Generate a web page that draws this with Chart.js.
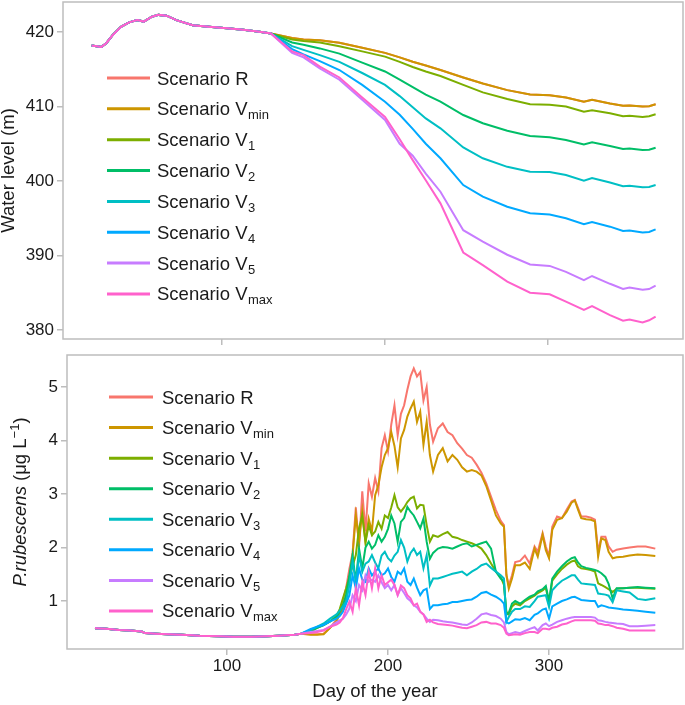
<!DOCTYPE html>
<html lang="en">
<head>
<meta charset="UTF-8">
<title>Water level and P. rubescens by scenario</title>
<script src="https://cdn.jsdelivr.net/npm/chart.js"></script>
<style>
  body { margin: 0; background: #fff; }
  #wrap { position: relative; width: 685px; height: 705px; }
  canvas { position: absolute; left: 0; }
  #levelChart { top: 0; }
  #algaeChart { top: 345px; }
</style>
</head>
<body>
<div id="wrap">
  <canvas id="levelChart" width="685" height="345"></canvas>
  <canvas id="algaeChart" width="685" height="360"></canvas>
</div>
<script>
const scenarioNames = ['Scenario R', 'Scenario V', 'Scenario V', 'Scenario V', 'Scenario V', 'Scenario V', 'Scenario V', 'Scenario V'];
const scenarioSubs = ['', 'min', '1', '2', '3', '4', '5', 'max'];
const scenarioColors = ['#F8766D', '#CD9600', '#7CAE00', '#00BE67', '#00BFC4', '#00A9FF', '#C77CFF', '#FF61CC'];

const dayTicks = [100, 200, 300];
const levelTicks = [380, 390, 400, 410, 420];
const algaeTicks = [1, 2, 3, 4, 5];

// water level (m): same for every scenario until day 130
const levelDaysCommon = [20, 23, 26, 29, 33, 38, 43, 48, 52, 57, 61, 66, 72, 82, 92, 103, 113, 123, 130];
const levelCommon = [418.2, 418.1, 418.0, 418.5, 419.6, 420.7, 421.3, 421.6, 421.4, 422.05, 422.3, 422.2, 421.6, 420.9, 420.7, 420.5, 420.3, 420.05, 419.8];

const levelDays = [143, 150, 160, 172, 186, 200, 209, 217, 225, 234, 248, 260, 275, 289, 301, 311, 322, 327, 338, 346, 350, 358, 362, 366];
const levelVmin = [419.2, 419.0, 418.9, 418.55, 417.9, 417.2, 416.6, 416.0, 415.5, 414.9, 413.9, 413.1, 412.2, 411.6, 411.5, 411.2, 410.65, 410.9, 410.4, 410.1, 410.15, 410.0, 410.05, 410.3];
const levelR = levelVmin; // hidden under Vmin in the figure
const levelV1 = [419.0, 418.8, 418.6, 418.1, 417.4, 416.7, 416.0, 415.3, 414.7, 414.1, 412.9, 411.9, 411.0, 410.3, 410.25, 410.0, 409.3, 409.5, 409.1, 408.7, 408.75, 408.6, 408.7, 408.95];
const levelV2 = [418.6, 418.3, 417.8, 417.1, 415.9, 414.7, 413.6, 412.6, 411.6, 410.65, 408.86, 407.75, 406.75, 406.04, 405.87, 405.5, 404.9, 405.2, 404.7, 404.3, 404.35, 404.16, 404.2, 404.47];
const levelV3 = [418.1, 417.6, 416.9, 416.0, 414.5, 412.9, 411.4, 409.9, 408.4, 407.07, 404.5, 403.05, 401.9, 401.25, 401.2, 400.8, 400.04, 400.4, 399.8, 399.3, 399.35, 399.15, 399.2, 399.46];
const levelV4 = [417.7, 417.0, 416.1, 414.9, 412.9, 410.65, 408.9, 407.0, 405.0, 403.05, 399.46, 397.9, 396.55, 395.66, 395.5, 395.0, 394.2, 394.5, 393.87, 393.3, 393.35, 393.1, 393.15, 393.5];
const levelV5 = [417.2, 416.6, 415.1, 413.6, 410.9, 408.2, 405.0, 403.4, 401.0, 398.56, 393.4, 391.85, 390.1, 388.8, 388.6, 387.8, 386.7, 387.25, 386.2, 385.5, 385.7, 385.4, 385.5, 385.95];
const levelVmax = [417.4, 416.9, 415.35, 413.9, 411.2, 408.6, 405.6, 402.8, 400.1, 397.0, 390.4, 388.7, 386.5, 385.0, 384.8, 383.8, 382.7, 383.2, 382.0, 381.25, 381.4, 381.0, 381.3, 381.8];

// P. rubescens (ug/L): same for every scenario until day 146
const algaeDaysCommon = [18, 25, 33, 40, 47, 49, 56, 63, 72, 83, 95, 104, 115, 125, 132, 137, 142, 146];
const algaeCommon = [0.49, 0.48, 0.46, 0.45, 0.43, 0.4, 0.39, 0.38, 0.37, 0.35, 0.34, 0.33, 0.33, 0.34, 0.35, 0.36, 0.37, 0.39];

const algaeDays = [152, 156, 160, 164, 168, 170, 172, 174, 176, 178, 180, 182, 184, 186, 188, 190, 192, 194, 196, 198,
  200, 202, 204, 206, 208, 210, 212, 214, 216, 218, 220, 222, 224, 226, 228,
  231, 234, 237, 240, 243, 246, 249, 252, 255, 258, 261, 264, 267, 270, 272, 273.5, 275, 277, 279, 282,
  285, 288, 291, 293, 296, 298, 300, 302, 305, 308, 311, 314, 316, 318, 320, 323, 326, 328.5, 330.5, 332.5,
  335, 337, 339.5, 342, 346, 350, 355, 360, 366];
const algaeR = [0.38, 0.38, 0.39, 0.5, 0.65, 0.8, 1.0, 1.25, 1.6, 1.9, 2.75, 2.0, 3.05, 2.3, 3.2, 2.95, 3.3, 3.05, 3.86, 4.1, 3.8, 4.3, 4.66, 4.1, 4.5, 4.66, 4.95, 5.2, 5.35, 5.2, 5.28, 4.75, 5.0, 4.3, 3.98,
  4.23, 4.32, 4.16, 4.1, 3.95, 3.85, 3.73, 3.68, 3.55, 3.4, 3.2, 2.95, 2.7, 2.5, 2.42, 1.48, 1.29, 1.48, 1.73, 1.75, 1.85, 1.7, 2.02, 1.92, 2.27, 2.02, 1.83, 2.39, 2.58, 2.55, 2.71, 2.86, 2.89, 2.74, 2.58, 2.58, 2.56, 2.52, 1.92, 2.2, 2.2, 2.02, 1.92, 1.96, 1.98, 2.0, 2.02, 2.02, 1.98];
const algaeVmin = [0.37, 0.37, 0.38, 0.5, 0.62, 0.75, 0.85, 1.1, 1.4, 1.86, 2.6, 2.1, 2.67, 2.1, 2.54, 2.3, 2.98, 3.17, 3.5, 3.73, 3.86, 4.16, 3.9, 3.5, 4.04, 4.2, 4.45, 4.6, 4.73, 4.35, 4.54, 3.92, 4.35, 3.73, 3.42,
  3.73, 3.86, 3.61, 3.73, 3.64, 3.5, 3.42, 3.45, 3.42, 3.35, 3.15, 2.88, 2.6, 2.45, 2.39, 1.5, 1.23, 1.42, 1.67, 1.67, 1.72, 1.6, 1.98, 1.83, 2.24, 1.95, 1.8, 2.33, 2.52, 2.55, 2.67, 2.84, 2.88, 2.71, 2.55, 2.53, 2.52, 2.49, 1.83, 2.17, 2.14, 1.92, 1.8, 1.82, 1.83, 1.85, 1.87, 1.86, 1.84];
const algaeV1 = [0.42, 0.5, 0.55, 0.62, 0.72, 0.85, 1.05, 1.24, 1.45, 1.65, 1.86, 2.36, 2.6, 2.1, 2.42, 2.23, 2.3, 2.48, 2.35, 2.6, 2.55, 2.75, 2.98, 2.75, 2.67, 2.75, 2.85, 2.92, 2.95, 2.73, 2.8, 2.79, 2.42, 2.11, 2.23,
  2.2, 2.25, 2.29, 2.2, 2.18, 2.14, 2.11, 2.08, 2.04, 1.98, 1.86, 1.7, 1.55, 1.45, 1.3, 0.8, 0.75, 0.9, 0.95, 0.92, 1.0, 1.05, 1.1, 1.15, 1.2, 1.25, 0.95, 1.38, 1.5, 1.6, 1.68, 1.74, 1.76, 1.65, 1.61, 1.6, 1.58, 1.55, 1.33, 1.3, 1.26, 1.22, 1.17, 1.23, 1.24, 1.25, 1.25, 1.24, 1.23];
const algaeV2 = [0.45, 0.5, 0.55, 0.62, 0.7, 0.8, 0.92, 1.11, 1.48, 1.86, 1.36, 1.98, 1.61, 2.0, 2.11, 1.98, 2.05, 2.23, 2.11, 2.2, 2.35, 2.6, 2.45, 2.11, 2.48, 2.55, 2.76, 2.67, 2.6, 2.48, 2.36, 2.54, 2.11, 1.79, 1.9,
  1.98, 2.01, 2.0, 1.98, 2.02, 2.06, 2.08, 2.02, 2.05, 2.08, 2.11, 1.98, 1.55, 1.42, 1.36, 0.74, 0.78, 0.95, 1.0, 0.95, 1.02, 1.08, 1.12, 1.18, 1.22, 1.28, 1.0, 1.42, 1.55, 1.65, 1.74, 1.8, 1.82, 1.72, 1.65, 1.62, 1.6, 1.58, 1.56, 1.52, 1.45, 1.32, 1.05, 1.24, 1.24, 1.25, 1.26, 1.25, 1.24];
const algaeV3 = [0.46, 0.52, 0.58, 0.67, 0.75, 0.82, 0.9, 0.99, 1.3, 1.74, 1.36, 1.86, 1.55, 1.7, 1.74, 1.86, 1.72, 1.61, 1.85, 1.92, 1.8, 1.74, 1.85, 1.92, 2.14, 2.0, 1.74, 1.9, 1.98, 1.86, 1.92, 1.61, 1.86, 1.29, 1.42,
  1.42, 1.45, 1.48, 1.51, 1.53, 1.55, 1.48, 1.55, 1.6, 1.67, 1.7, 1.62, 1.55, 1.48, 1.42, 0.61, 0.7, 0.8, 0.85, 0.85, 0.9, 0.89, 1.0, 1.08, 1.1, 1.11, 0.89, 1.2, 1.3, 1.38, 1.43, 1.48, 1.48, 1.4, 1.33, 1.32, 1.31, 1.3, 1.14, 1.13, 1.12, 1.1, 0.98, 1.2, 1.18, 1.16, 1.04, 1.02, 1.05];
const algaeV4 = [0.48, 0.52, 0.55, 0.62, 0.67, 0.72, 0.8, 0.95, 1.11, 1.48, 1.24, 1.61, 1.4, 1.36, 1.61, 1.48, 1.55, 1.61, 1.48, 1.52, 1.61, 1.45, 1.36, 1.55, 1.5, 1.61, 1.36, 1.3, 1.42, 1.25, 1.11, 1.2, 1.23, 0.85, 0.92,
  0.92, 0.94, 0.95, 0.98, 0.98, 1.0, 1.02, 1.03, 1.08, 1.15, 1.17, 1.12, 1.08, 1.02, 0.95, 0.6, 0.58, 0.62, 0.66, 0.65, 0.68, 0.64, 0.74, 0.77, 0.84, 0.86, 0.67, 0.9, 0.95, 1.0, 1.03, 1.07, 1.08, 1.05, 1.02, 1.01, 1.0, 1.0, 0.89, 0.92, 0.9, 0.88, 0.87, 0.86, 0.84, 0.83, 0.82, 0.8, 0.78];
const algaeV5 = [0.42, 0.44, 0.46, 0.52, 0.6, 0.64, 0.67, 0.75, 0.86, 1.11, 1.0, 1.3, 1.2, 1.48, 1.36, 1.4, 1.36, 1.48, 1.35, 1.24, 1.3, 1.2, 1.3, 1.11, 1.24, 1.15, 1.05, 1.0, 0.92, 0.88, 0.8, 0.75, 0.67, 0.61, 0.65,
  0.64, 0.62, 0.61, 0.6, 0.58, 0.56, 0.55, 0.6, 0.67, 0.75, 0.77, 0.74, 0.72, 0.67, 0.6, 0.42, 0.38, 0.4, 0.42, 0.4, 0.44, 0.48, 0.51, 0.45, 0.55, 0.58, 0.53, 0.56, 0.61, 0.64, 0.67, 0.69, 0.7, 0.7, 0.7, 0.7, 0.7, 0.69, 0.64, 0.63, 0.61, 0.6, 0.59, 0.58, 0.57, 0.53, 0.53, 0.54, 0.55];
const algaeVmax = [0.4, 0.42, 0.45, 0.52, 0.56, 0.6, 0.68, 0.85, 0.99, 0.8, 1.24, 0.92, 1.36, 1.11, 1.55, 1.24, 1.61, 1.24, 1.48, 1.3, 1.35, 1.4, 1.3, 1.11, 1.29, 1.24, 1.11, 1.05, 0.92, 0.95, 0.8, 0.75, 0.61, 0.65, 0.6,
  0.57, 0.56, 0.55, 0.54, 0.52, 0.5, 0.49, 0.52, 0.55, 0.6, 0.61, 0.58, 0.58, 0.55, 0.5, 0.39, 0.36, 0.37, 0.38, 0.37, 0.4, 0.42, 0.42, 0.4, 0.48, 0.48, 0.47, 0.5, 0.52, 0.56, 0.58, 0.62, 0.64, 0.64, 0.64, 0.64, 0.64, 0.63, 0.58, 0.57, 0.55, 0.55, 0.53, 0.5, 0.48, 0.45, 0.45, 0.45, 0.45];

const levelSeries = [levelR, levelVmin, levelV1, levelV2, levelV3, levelV4, levelV5, levelVmax];
const algaeSeries = [algaeR, algaeVmin, algaeV1, algaeV2, algaeV3, algaeV4, algaeV5, algaeVmax];

const FONT = "'Liberation Sans', Arial, sans-serif";
const INK = '#1a1a1a';
const FRAME = '#bdbdbd';

function points(days, vals) {
    return days.map((d, i) => ({ x: d, y: vals[i] }));
}

function makeDatasets(days, series) {
    return series.map((vals, i) => ({
        label: scenarioNames[i] + scenarioSubs[i],
        data: points(days, vals),
        borderColor: scenarioColors[i],
        backgroundColor: scenarioColors[i],
        borderWidth: 2,
        pointRadius: 0,
        tension: 0,
        order: series.length - i   // Vmax drawn last, on top
    }));
}

// fixed axis sizes so the plot boxes sit where they do in the figure
function fixWidth(w) {
    return s => { s.width = w; s.paddingTop = 0; s.paddingBottom = 0; };
}
function fixHeight(h) {
    return s => { s.height = h; s.paddingLeft = 0; s.paddingRight = 0; };
}

// grey box round the plot area
const framePlugin = {
    id: 'frame',
    afterDraw(chart) {
        const { ctx, chartArea: a } = chart;
        ctx.save();
        ctx.strokeStyle = FRAME;
        ctx.lineWidth = 1.5;
        ctx.strokeRect(a.left, a.top, a.right - a.left, a.bottom - a.top);
        ctx.restore();
    }
};

// legend with subscripts
const subLegend = {
    id: 'subLegend',
    afterDraw(chart, args, opts) {
        const ctx = chart.ctx;
        ctx.save();
        chart.data.datasets.forEach((ds, i) => {
            const y = opts.top + i * opts.step;
            ctx.strokeStyle = ds.borderColor;
            ctx.lineWidth = 3;
            ctx.beginPath();
            ctx.moveTo(opts.lineStart, y);
            ctx.lineTo(opts.lineEnd, y);
            ctx.stroke();
            ctx.fillStyle = INK;
            ctx.textBaseline = 'alphabetic';
            ctx.textAlign = 'left';
            ctx.font = '18.5px ' + FONT;
            ctx.fillText(scenarioNames[i], opts.textX, y + 6.5);
            if (scenarioSubs[i]) {
                const w = ctx.measureText(scenarioNames[i]).width;
                ctx.font = '13px ' + FONT;
                ctx.fillText(scenarioSubs[i], opts.textX + w + 0.5, y + 10.5);
            }
        });
        ctx.restore();
    }
};

// y title of the lower panel: italic name and superscript unit
const algaeTitle = {
    id: 'algaeTitle',
    afterDraw(chart, args, opts) {
        const ctx = chart.ctx, a = chart.chartArea;
        const parts = [
            { t: 'P.rubescens', f: 'italic 18.5px ' + FONT, dy: 0 },
            { t: ' (\u03bcg L', f: '18.5px ' + FONT, dy: 0 },
            { t: '\u22121', f: '13px ' + FONT, dy: -7 },
            { t: ')', f: '18.5px ' + FONT, dy: 0 }
        ];
        ctx.save();
        let total = 0;
        parts.forEach(p => { ctx.font = p.f; p.w = ctx.measureText(p.t).width; total += p.w; });
        ctx.translate(opts.x, (a.top + a.bottom) / 2);
        ctx.rotate(-Math.PI / 2);
        ctx.fillStyle = INK;
        ctx.textBaseline = 'alphabetic';
        ctx.textAlign = 'left';
        let x = -total / 2;
        parts.forEach(p => { ctx.font = p.f; ctx.fillText(p.t, x, p.dy); x += p.w; });
        ctx.restore();
    }
};

const tickGrid = { drawOnChartArea: false, color: FRAME, tickLength: 6, lineWidth: 1.5 };

new Chart(document.getElementById('levelChart'), {
    type: 'line',
    data: { datasets: makeDatasets(levelDaysCommon.concat(levelDays), levelSeries.map(s => levelCommon.concat(s))) },
    options: {
        responsive: false,
        animation: false,
        layout: { padding: { top: 2, right: 2, left: 0, bottom: 0 } },
        plugins: {
            legend: { display: false },
            tooltip: { enabled: false },
            subLegend: { lineStart: 107, lineEnd: 150, textX: 157, top: 78, step: 30.85 }
        },
        scales: {
            x: {
                type: 'linear', min: 2.45, max: 382.8,
                afterBuildTicks: s => { s.ticks = dayTicks.map(v => ({ value: v })); },
                afterFit: fixHeight(6),
                grid: tickGrid,
                border: { display: false },
                ticks: { display: false }
            },
            y: {
                min: 378.79, max: 424.03,
                afterBuildTicks: s => { s.ticks = levelTicks.map(v => ({ value: v })); },
                afterFit: fixWidth(63),
                grid: tickGrid,
                border: { display: false },
                ticks: { font: { family: FONT, size: 17 }, color: INK, padding: 3 },
                title: { display: true, text: 'Water level (m)', color: INK, padding: 0,
                         font: { family: FONT, size: 18.5, lineHeight: 1 } }
            }
        }
    },
    plugins: [framePlugin, subLegend]
});

new Chart(document.getElementById('algaeChart'), {
    type: 'line',
    data: { datasets: makeDatasets(algaeDaysCommon.concat(algaeDays), algaeSeries.map(s => algaeCommon.concat(s))) },
    options: {
        responsive: false,
        animation: false,
        layout: { padding: { top: 10, right: 2, left: 0, bottom: 0 } },
        plugins: {
            legend: { display: false },
            tooltip: { enabled: false },
            subLegend: { lineStart: 109, lineEnd: 153, textX: 162, top: 52, step: 30.57 },
            algaeTitle: { x: 26 }
        },
        scales: {
            x: {
                type: 'linear', min: 0.62, max: 383.2,
                afterBuildTicks: s => { s.ticks = dayTicks.map(v => ({ value: v })); },
                afterFit: fixHeight(56),
                grid: tickGrid,
                border: { display: false },
                ticks: { font: { family: FONT, size: 17 }, color: INK, padding: 1, maxRotation: 0 },
                title: { display: true, text: 'Day of the year', color: INK, padding: { top: 0, bottom: 2 },
                         font: { family: FONT, size: 18.5 } }
            },
            y: {
                min: 0.103, max: 5.6,
                afterBuildTicks: s => { s.ticks = algaeTicks.map(v => ({ value: v })); },
                afterFit: fixWidth(67),
                grid: tickGrid,
                border: { display: false },
                ticks: { font: { family: FONT, size: 17 }, color: INK, padding: 3 }
            }
        }
    },
    plugins: [framePlugin, subLegend, algaeTitle]
});
</script>
</body>
</html>
